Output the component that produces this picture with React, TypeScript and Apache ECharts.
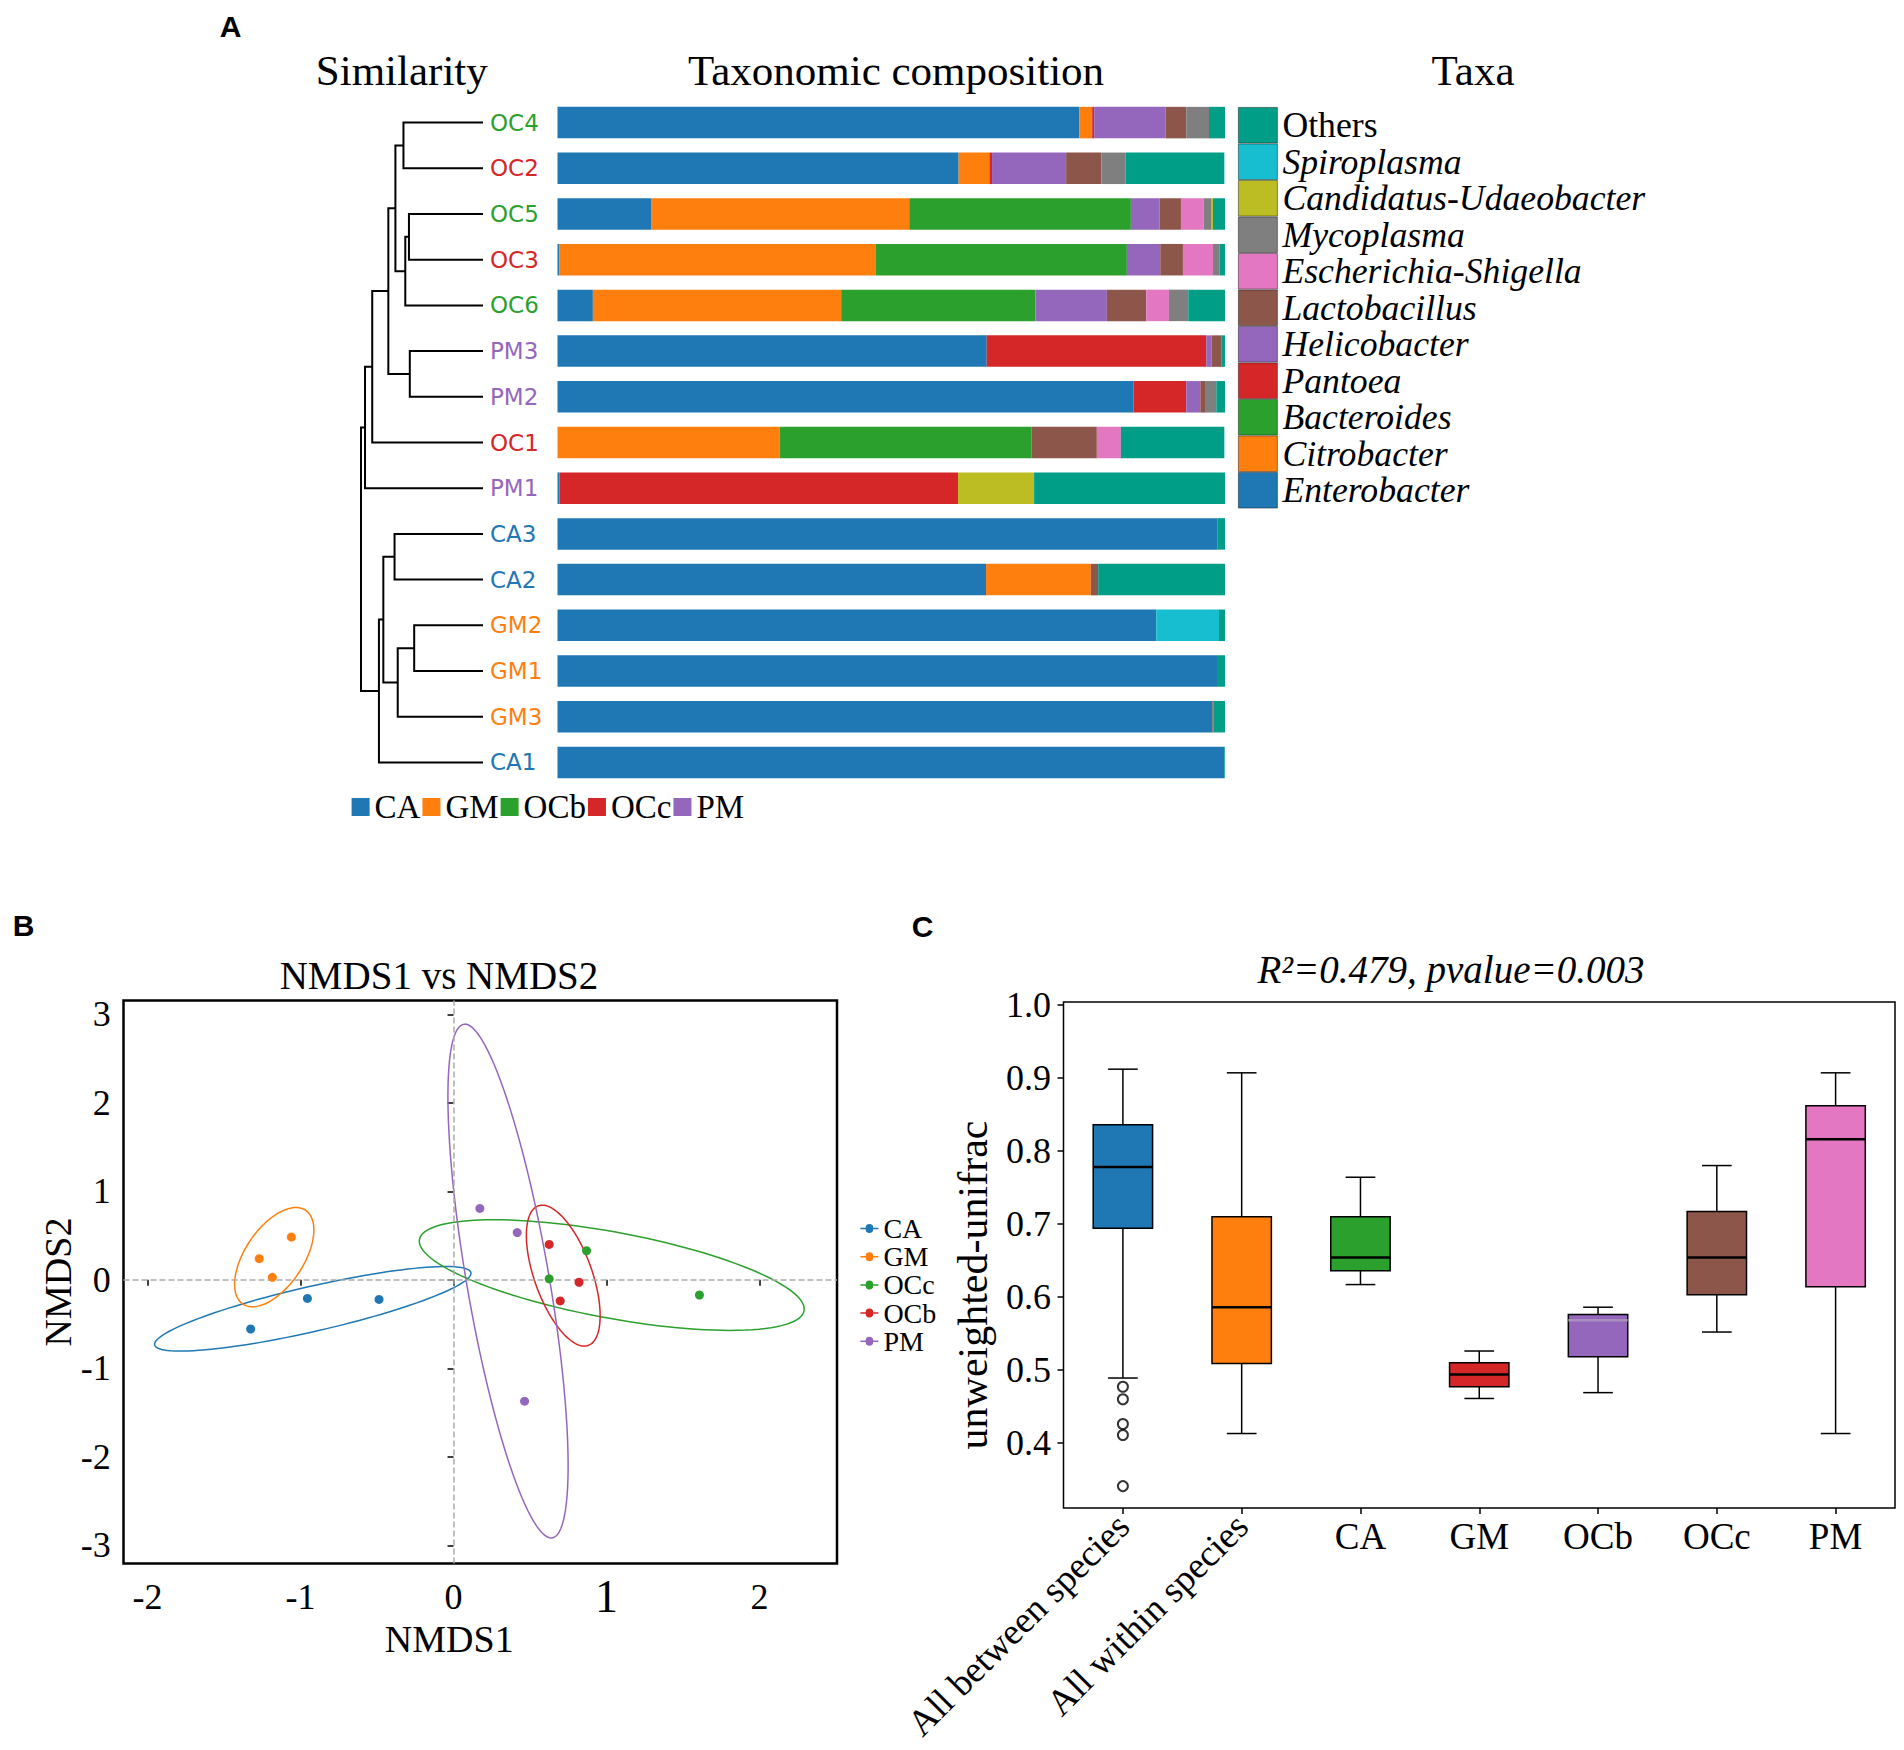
import React, { useEffect, useRef } from "react";
import * as echarts from "echarts";

// ---------- Panel A data ----------
const samples = ["OC4", "OC2", "OC5", "OC3", "OC6", "PM3", "PM2", "OC1", "PM1", "CA3", "CA2", "GM2", "GM1", "GM3", "CA1"];
const sampleGroups = ["OCb", "OCc", "OCb", "OCc", "OCb", "PM", "PM", "OCc", "PM", "CA", "CA", "GM", "GM", "GM", "CA"];

const taxaNames = [
  "Enterobacter", "Citrobacter", "Bacteroides", "Pantoea", "Helicobacter", "Lactobacillus",
  "Escherichia-Shigella", "Mycoplasma", "Candidatus-Udaeobacter", "Spiroplasma", "Others",
];
const taxaColors = [
  "#1f77b4", "#ff7f0e", "#2ca02c", "#d62728", "#9467bd", "#8c564b",
  "#e377c2", "#7f7f7f", "#bcbd22", "#17becf", "#009e86",
];
// relative abundance (%) per sample, in sample order
const enterobacter = [78.2, 60.1, 14.1, 0.3, 5.3, 64.3, 86.3, 0, 0.3, 98.9, 64.2, 89.7, 98.8, 98.1, 99.9];
const citrobacter = [1.9, 4.6, 38.6, 47.4, 37.2, 0, 0, 33.3, 0, 0, 15.7, 0, 0, 0, 0];
const bacteroides = [0, 0, 33.2, 37.6, 29.1, 0, 0, 37.7, 0, 0, 0, 0, 0, 0, 0];
const pantoea = [0.3, 0.4, 0, 0, 0, 32.9, 7.9, 0, 59.7, 0, 0, 0, 0, 0, 0];
const helicobacter = [10.7, 11.1, 4.3, 5.0, 10.7, 0.8, 2.1, 0, 0, 0, 0, 0, 0, 0, 0];
const lactobacillus = [3.1, 5.3, 3.2, 3.4, 5.9, 1.5, 0.7, 9.8, 0, 0, 1.1, 0, 0, 0.2, 0];
const escherichia = [0, 0, 3.4, 4.5, 3.4, 0, 0, 3.6, 0, 0, 0, 0, 0, 0, 0];
const mycoplasma = [3.4, 3.6, 1.2, 1.0, 2.9, 0, 1.7, 0, 0, 0, 0, 0, 0, 0, 0];
const candidatus = [0, 0, 0.2, 0, 0, 0, 0, 0, 11.4, 0, 0, 0, 0, 0, 0];
const spiroplasma = [0, 0, 0, 0, 0, 0, 0, 0, 0, 0, 0, 9.4, 0, 0, 0];
const others = [2.4, 14.8, 1.8, 0.8, 5.5, 0.5, 1.3, 15.5, 28.7, 1.1, 19.0, 0.9, 1.2, 1.7, 0.1];
const taxaValues = [enterobacter, citrobacter, bacteroides, pantoea, helicobacter, lactobacillus,
  escherichia, mycoplasma, candidatus, spiroplasma, others];

const groupColorsA: Record<string, string> = {
  CA: "#1f77b4", GM: "#ff7f0e", OCb: "#2ca02c", OCc: "#d62728", PM: "#9467bd",
};
const groupLegendA = ["CA", "GM", "OCb", "OCc", "PM"];

// dendrogram merges (height: 0 = leaves, 1 = root)
const dendroMerges = [
  { id: "n1", a: "OC4", b: "OC2", h: 0.652 },
  { id: "n2", a: "OC5", b: "OC3", h: 0.607 },
  { id: "n3", a: "n2", b: "OC6", h: 0.637 },
  { id: "n4", a: "n1", b: "n3", h: 0.718 },
  { id: "n5", a: "PM3", b: "PM2", h: 0.6 },
  { id: "n6", a: "n4", b: "n5", h: 0.776 },
  { id: "n7", a: "n6", b: "OC1", h: 0.908 },
  { id: "n8", a: "n7", b: "PM1", h: 0.967 },
  { id: "n9", a: "CA3", b: "CA2", h: 0.725 },
  { id: "n10", a: "GM2", b: "GM1", h: 0.564 },
  { id: "n11", a: "n10", b: "GM3", h: 0.699 },
  { id: "n12", a: "n9", b: "n11", h: 0.817 },
  { id: "n13", a: "n12", b: "CA1", h: 0.853 },
  { id: "root", a: "n8", b: "n13", h: 1.0 },
];

// ---------- Panel B data ----------
const nmdsGroups = ["CA", "GM", "OCc", "OCb", "PM"];
const nmdsColors: Record<string, string> = {
  CA: "#1f77b4", GM: "#ff7f0e", OCc: "#2ca02c", OCb: "#d62728", PM: "#9467bd",
};
const nmdsCA = [[-1.326, -0.556], [-0.955, -0.211], [-0.487, -0.222]];
const nmdsGM = [[-1.27, 0.239], [-1.06, 0.483], [-1.184, 0.028]];
const nmdsOCc = [[0.869, 0.328], [0.625, 0.011], [1.607, -0.172]];
const nmdsOCb = [[0.625, 0.4], [0.82, -0.028], [0.697, -0.239]];
const nmdsPM = [[0.172, 0.806], [0.416, 0.533], [0.464, -1.372]];
const nmdsPoints: Record<string, number[][]> = { CA: nmdsCA, GM: nmdsGM, OCc: nmdsOCc, OCb: nmdsOCb, PM: nmdsPM };
// confidence ellipses: centre, semi-axes, rotation (deg)
const nmdsEllipses = [
  { group: "CA", cx: -0.92, cy: -0.328, a: 1.113, b: 0.242, angle: 22.3 },
  { group: "GM", cx: -1.172, cy: 0.256, a: 0.581, b: 0.209, angle: 73.6 },
  { group: "OCc", cx: 1.034, cy: 0.053, a: 1.324, b: 0.469, angle: -19.5 },
  { group: "OCb", cx: 0.717, cy: 0.047, a: 0.809, b: 0.195, angle: 100.4 },
  { group: "PM", cx: 0.356, cy: -0.014, a: 2.917, b: 0.272, angle: 95.6 },
];
const nmdsXTicks = [-2, -1, 0, 1, 2];
const nmdsYTicks = [-3, -2, -1, 0, 1, 2, 3];

// ---------- Panel C data ----------
const boxCategories = ["All between species", "All within species", "CA", "GM", "OCb", "OCc", "PM"];
// [low whisker, Q1, median, Q3, high whisker]
const boxStats = [
  [0.489, 0.694, 0.778, 0.836, 0.912],
  [0.413, 0.509, 0.586, 0.71, 0.907],
  [0.617, 0.636, 0.654, 0.71, 0.764],
  [0.461, 0.477, 0.494, 0.51, 0.526],
  [0.469, 0.518, 0.568, 0.576, 0.586],
  [0.552, 0.603, 0.654, 0.717, 0.78],
  [0.413, 0.614, 0.816, 0.862, 0.907],
];
const boxColors = ["#1f77b4", "#ff7f0e", "#2ca02c", "#d62728", "#9467bd", "#8c564b", "#e377c2"];
const boxMedianColors = ["#000", "#000", "#000", "#000", "#a792bf", "#000", "#000"];
const boxOutliers = [0.477, 0.46, 0.426, 0.411, 0.341];
const boxYTicks = [0.4, 0.5, 0.6, 0.7, 0.8, 0.9, 1.0];

const SERIF = "'Liberation Serif', 'Times New Roman', serif";
const SANS = "'Liberation Sans', Arial, sans-serif";
const LEGEND_ICON = "path://M0,5h7a5,5 0 1,1 10,0h7v2h-7a5,5 0 1,1 -10,0h-7z";

function buildDendro() {
  const pos: Record<string, { y: number; h: number }> = {};
  samples.forEach((s, i) => (pos[s] = { y: i, h: 0 }));
  const items: number[][] = [];
  dendroMerges.forEach((m) => {
    const A = pos[m.a];
    const B = pos[m.b];
    pos[m.id] = { y: (A.y + B.y) / 2, h: m.h };
    items.push([m.h, A.y, B.y, A.h, B.h]);
  });
  return items;
}

export default function App() {
  const ref = useRef<HTMLDivElement>(null);
  useEffect(() => {
    if (!ref.current) return;
    const chart = echarts.init(ref.current, undefined, { renderer: "svg" });
    const dendroData = buildDendro();
    const axisLineStyle = { color: "#000", width: 1.5 };

    const series: any[] = [];
    taxaNames.forEach((name, k) => {
      series.push({
        type: "bar",
        name,
        stack: "tax",
        xAxisIndex: 0,
        yAxisIndex: 0,
        barWidth: 31.5,
        silent: true,
        itemStyle: { color: taxaColors[k] },
        data: taxaValues[k],
      });
    });
    series.push({
      type: "custom",
      name: "dendrogram",
      xAxisIndex: 1,
      yAxisIndex: 1,
      silent: true,
      encode: { x: [0, 3, 4], y: [1, 2] },
      data: dendroData,
      renderItem: (params: any, api: any) => {
        const h = api.value(0), ya = api.value(1), yb = api.value(2), ha = api.value(3), hb = api.value(4);
        const pts = [api.coord([ha, ya]), api.coord([h, ya]), api.coord([h, yb]), api.coord([hb, yb])];
        return { type: "polyline", shape: { points: pts }, style: { stroke: "#000", lineWidth: 2, fill: "none" } };
      },
    });
    nmdsGroups.forEach((g, k) => {
      const s: any = {
        type: "scatter",
        name: g,
        xAxisIndex: 2,
        yAxisIndex: 2,
        symbolSize: 9,
        silent: true,
        itemStyle: { color: nmdsColors[g], opacity: 1 },
        data: nmdsPoints[g],
        z: 5,
      };
      if (k === 0) {
        s.markLine = {
          silent: true,
          symbol: "none",
          label: { show: false },
          lineStyle: { type: "dashed", color: "#aaaaaa", width: 1.5 },
          data: [{ xAxis: 0 }, { yAxis: 0 }],
        };
      }
      series.push(s);
    });
    nmdsEllipses.forEach((e) => {
      series.push({
        type: "custom",
        name: e.group + " ellipse",
        xAxisIndex: 2,
        yAxisIndex: 2,
        silent: true,
        data: [[e.cx, e.cy, e.a, e.b, e.angle]],
        encode: { x: 0, y: 1 },
        renderItem: (params: any, api: any) => {
          const cx = api.value(0), cy = api.value(1), a = api.value(2), b = api.value(3);
          const th = (api.value(4) * Math.PI) / 180;
          const pts: number[][] = [];
          for (let i = 0; i <= 120; i++) {
            const t = (i / 120) * Math.PI * 2;
            const x = cx + a * Math.cos(th) * Math.cos(t) - b * Math.sin(th) * Math.sin(t);
            const y = cy + a * Math.sin(th) * Math.cos(t) + b * Math.cos(th) * Math.sin(t);
            pts.push(api.coord([x, y]));
          }
          return { type: "polyline", shape: { points: pts }, style: { stroke: nmdsColors[e.group], lineWidth: 1.5, fill: "none" } };
        },
        z: 4,
      });
    });
    series.push({
      type: "custom",
      name: "boxes",
      xAxisIndex: 3,
      yAxisIndex: 3,
      silent: true,
      encode: { x: 0, y: [1, 2, 3, 4, 5] },
      data: boxStats.map((s, i) => [i, ...s]),
      renderItem: (params: any, api: any) => {
        const i = api.value(0);
        const band = api.size([1, 0])[0];
        const hw = band * 0.25;
        const cw = band * 0.125;
        const pLow = api.coord([i, api.value(1)]);
        const pQ1 = api.coord([i, api.value(2)]);
        const pMed = api.coord([i, api.value(3)]);
        const pQ3 = api.coord([i, api.value(4)]);
        const pHigh = api.coord([i, api.value(5)]);
        const x = pMed[0];
        const ls = { stroke: "#000", lineWidth: 1.5 };
        return {
          type: "group",
          children: [
            { type: "line", shape: { x1: x, y1: pQ3[1], x2: x, y2: pHigh[1] }, style: ls },
            { type: "line", shape: { x1: x, y1: pQ1[1], x2: x, y2: pLow[1] }, style: ls },
            { type: "line", shape: { x1: x - cw, y1: pHigh[1], x2: x + cw, y2: pHigh[1] }, style: ls },
            { type: "line", shape: { x1: x - cw, y1: pLow[1], x2: x + cw, y2: pLow[1] }, style: ls },
            {
              type: "rect",
              shape: { x: x - hw, y: pQ3[1], width: hw * 2, height: pQ1[1] - pQ3[1] },
              style: { fill: boxColors[params.dataIndex], stroke: "#000", lineWidth: 1.5 },
            },
            {
              type: "line",
              shape: { x1: x - hw, y1: pMed[1], x2: x + hw, y2: pMed[1] },
              style: { stroke: boxMedianColors[params.dataIndex], lineWidth: 2.5 },
            },
          ],
        };
      },
    });
    series.push({
      type: "scatter",
      name: "outliers",
      xAxisIndex: 3,
      yAxisIndex: 3,
      silent: true,
      symbol: "emptyCircle",
      symbolSize: 10,
      itemStyle: { color: "#000", borderWidth: 1.2 },
      data: boxOutliers.map((v) => [0, v]),
    });

    const txt = (text: string, x: number, y: number, font: string) => ({
      type: "text",
      silent: true,
      style: { text, x, y, font, fill: "#000", textAlign: "center", textVerticalAlign: "middle" },
    });

    const option: any = {
      animation: false,
      backgroundColor: "#fff",
      textStyle: { fontFamily: SERIF },
      grid: [
        { left: 557.5, top: 99.75, width: 667.5, height: 685.5 },
        { left: 361, top: 99.75, width: 122, height: 685.5 },
        { left: 123.5, top: 1000.5, width: 713.5, height: 563, show: true, borderColor: "#000", borderWidth: 2.5, backgroundColor: "transparent" },
        { left: 1063.5, top: 1002, width: 831.5, height: 506, show: true, borderColor: "#000", borderWidth: 1.5, backgroundColor: "transparent" },
      ],
      xAxis: [
        { gridIndex: 0, type: "value", min: 0, max: 100, show: false },
        { gridIndex: 1, type: "value", min: 0, max: 1, inverse: true, show: false },
        {
          gridIndex: 2, type: "value", min: -2.157, max: 2.506,
          axisLine: { show: false },
          axisTick: { show: true, length: 6, lineStyle: axisLineStyle, customValues: nmdsXTicks },
          axisLabel: {
            customValues: nmdsXTicks, margin: 15, fontFamily: SERIF, fontSize: 36, color: "#000",
            formatter: (v: number) => (v === 1 ? "{big|1}" : String(v)),
            rich: { big: { fontSize: 46, lineHeight: 36, fontFamily: SERIF, color: "#000" } },
          },
          splitLine: { show: false },
          name: "NMDS1", nameLocation: "middle", nameGap: 53,
          nameTextStyle: { fontFamily: SERIF, fontSize: 38, color: "#000", padding: [0, 62, 0, 0] },
        },
        {
          gridIndex: 3, type: "category", data: boxCategories,
          axisLine: { show: false },
          axisTick: { show: true, alignWithLabel: true, length: 6, lineStyle: axisLineStyle },
          axisLabel: {
            interval: 0, rotate: 45, margin: 12, fontFamily: SERIF, fontSize: 37, color: "#000",
            formatter: (v: string, i: number) => (i < 2 ? v : ""),
          },
        },
        {
          gridIndex: 3, type: "category", data: boxCategories, position: "bottom",
          axisLine: { show: false },
          axisTick: { show: false },
          axisLabel: {
            interval: 0, margin: 10, fontFamily: SERIF, fontSize: 37, color: "#000",
            formatter: (v: string, i: number) => (i >= 2 ? v : ""),
          },
        },
      ],
      yAxis: [
        {
          gridIndex: 0, type: "category", data: samples, inverse: true,
          axisLine: { show: false }, axisTick: { show: false },
          axisLabel: {
            align: "left", margin: 67.5, fontFamily: "'DejaVu Sans', sans-serif", fontSize: 23,
            color: (v: string) => groupColorsA[sampleGroups[samples.indexOf(v)]] || "#000",
          },
        },
        { gridIndex: 1, type: "value", min: -0.5, max: 14.5, inverse: true, show: false },
        {
          gridIndex: 2, type: "value", min: -3.206, max: 3.156,
          axisLine: { show: false },
          axisTick: { show: true, length: 6, lineStyle: axisLineStyle, customValues: nmdsYTicks },
          axisLabel: { customValues: nmdsYTicks, margin: 12.8, fontFamily: SERIF, fontSize: 36, color: "#000" },
          splitLine: { show: false },
          name: "NMDS2", nameLocation: "middle", nameGap: 38,
          nameTextStyle: { fontFamily: SERIF, fontSize: 38, color: "#000" },
        },
        {
          gridIndex: 3, type: "value", min: 0.311, max: 1.004,
          axisLine: { show: false },
          axisTick: { show: true, length: 6, lineStyle: axisLineStyle, customValues: boxYTicks },
          axisLabel: {
            customValues: boxYTicks, margin: 12.5, fontFamily: SERIF, fontSize: 36, color: "#000",
            formatter: (v: number) => v.toFixed(1),
          },
          splitLine: { show: false },
          name: "unweighted-unifrac", nameLocation: "middle", nameGap: 70,
          nameTextStyle: { fontFamily: SERIF, fontSize: 42, color: "#000", padding: [0, 60, 0, 0] },
        },
      ],
      legend: [
        {
          orient: "vertical", left: 1238, top: 107, padding: 0, itemGap: 0,
          itemWidth: 39, itemHeight: 35.7, icon: "rect", selectedMode: false,
          itemStyle: { borderColor: "rgba(0,0,0,0.55)", borderWidth: 0.8 },
          textStyle: { fontFamily: SERIF, fontSize: 35.7, color: "#000" },
          data: taxaNames.slice().reverse().map((n) => ({
            name: n, textStyle: { fontStyle: n === "Others" ? "normal" : "italic" },
          })),
        },
        {
          orient: "horizontal", left: 351.6, top: 790.5, padding: 0, itemGap: 2,
          itemWidth: 18, itemHeight: 18, icon: "rect", selectedMode: false,
          textStyle: { fontFamily: SERIF, fontSize: 33, color: "#000" },
          data: groupLegendA.map((g) => ({ name: g, itemStyle: { color: groupColorsA[g] } })),
        },
        {
          orient: "vertical", left: 860.4, top: 1214.5, padding: 0, itemGap: 0.2,
          itemWidth: 18, itemHeight: 9, icon: LEGEND_ICON, selectedMode: false,
          textStyle: { fontFamily: SERIF, fontSize: 28, color: "#000" },
          data: nmdsGroups,
        },
      ],
      graphic: [
        txt("A", 230.7, 26.7, `bold 30px ${SANS}`),
        txt("B", 23.6, 925.7, `bold 30px ${SANS}`),
        txt("C", 922.6, 926, `bold 30px ${SANS}`),
        txt("Similarity", 401.8, 70.4, `43px ${SERIF}`),
        txt("Taxonomic composition", 896, 70.4, `43px ${SERIF}`),
        txt("Taxa", 1473, 70.4, `43px ${SERIF}`),
        txt("NMDS1 vs NMDS2", 439, 975, `39px ${SERIF}`),
        txt("R²=0.479, pvalue=0.003", 1451, 969.4, `italic 39px ${SERIF}`),
      ],
      series,
    };
    chart.setOption(option);
    return () => chart.dispose();
  }, []);
  return <div ref={ref} style={{ position: "absolute", left: 0, top: 0, width: 1904, height: 1750 }} />;
}
